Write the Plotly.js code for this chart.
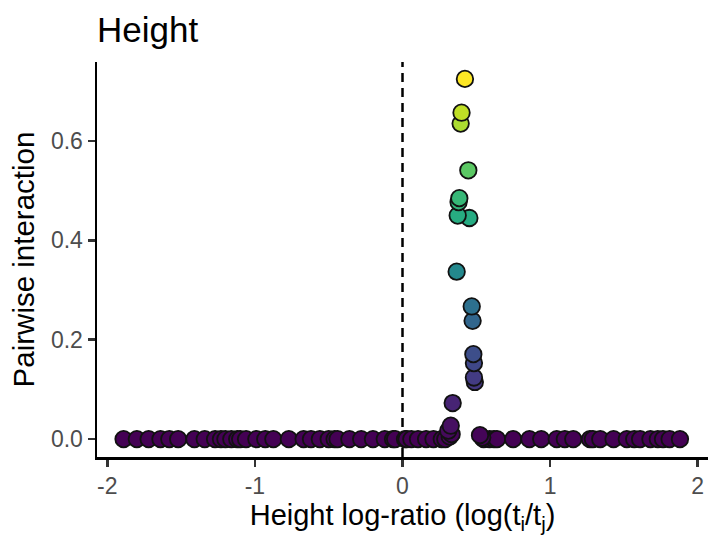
<!DOCTYPE html>
<html>
<head>
<meta charset="utf-8">
<script src="https://cdn.plot.ly/plotly-3.0.1.min.js"></script>
<style>html,body{margin:0;padding:0;background:#fff;}#plot{width:708px;height:535px;}</style>
</head>
<body>
<div id="plot"></div>
<script>
// Log-ratio values (x) and pairwise interaction values (y)
var logRatio = [
  -1.89,-1.80,-1.72,-1.64,-1.58,-1.52,-1.41,-1.34,-1.27,-1.23,-1.20,-1.16,-1.12,-1.10,-1.06,-0.99,-0.93,-0.875,
  -0.77,-0.67,-0.62,-0.56,-0.50,-0.46,-0.44,-0.36,-0.28,-0.20,-0.12,-0.064,-0.05,0.017,0.028,0.06,0.105,0.16,
  0.21,0.266,0.29,0.55,0.59,0.62,0.64,0.75,0.86,0.94,1.045,1.10,1.157,1.27,1.29,1.34,1.43,1.52,1.57,1.61,1.68,
  1.73,1.765,1.81,1.88,
  0.54,0.32,0.525,0.333,0.31,0.327,0.34,0.49,0.484,0.484,0.48,0.475,0.469,0.367,0.453,0.374,0.38,0.385,0.446,
  0.394,0.40,0.423
];
var interaction = [
  0,0,0,0,0,0,0,0,0,0,0,0,0,0,0,0,0,0,
  0,0,0,0,0,0,0,0,0,0,0,0,0,0,0,0,0,0,
  0,0,0,0,0,0,0,0,0,0,0,0,0,0,0,0,0,0,0,0,0,
  0,0,0,0,
  0.003,0.005,0.008,0.010,0.017,0.027,0.0725,0.115,0.124,0.153,0.171,0.238,0.267,0.337,0.445,0.450,0.477,0.485,0.541,
  0.635,0.657,0.725
];
var xTicks = [-2,-1,0,1,2];
var xTickLabels = ["-2","-1","0","1","2"];
var yTicks = [0,0.2,0.4,0.6];
var yTickLabels = ["0.0","0.2","0.4","0.6"];

var font = "Liberation Sans, Arial, Helvetica, sans-serif";
var trace = {
  x: logRatio, y: interaction, type: "scatter", mode: "markers",
  marker: {
    size: 16.5, color: interaction, colorscale: "Viridis", cmin: 0, cmax: Math.max.apply(null, interaction),
    showscale: false, line: {color: "#111111", width: 1.8}, opacity: 1
  },
  hoverinfo: "skip", cliponaxis: false
};
var layout = {
  width: 708, height: 535,
  margin: {l: 97, r: 0, t: 62, b: 78, pad: 0},
  paper_bgcolor: "#fff", plot_bgcolor: "#fff",
  font: {family: font, color: "#000"},
  showlegend: false,
  title: {text: "Height", font: {family: font, size: 35, color: "#000"},
          xref: "container", x: 97/708, xanchor: "left",
          yref: "container", y: 1 - 30/535, yanchor: "middle"},
  xaxis: {
    range: [-2.07, 2.07], tickmode: "array", tickvals: xTicks, ticktext: xTickLabels,
    showgrid: false, zeroline: false, showline: true, linecolor: "#000", linewidth: 2.5,
    ticks: "outside", ticklen: 7, tickwidth: 2.5, tickcolor: "#333",
    tickfont: {family: font, size: 23, color: "#4d4d4d"},
    title: {text: "Height log-ratio (log(t<sub>i</sub>/t<sub>j</sub>)", font: {family: font, size: 29, color: "#000"}, standoff: 6}
  },
  yaxis: {
    range: [-0.036, 0.759], tickmode: "array", tickvals: yTicks, ticktext: yTickLabels,
    showgrid: false, zeroline: false, showline: true, linecolor: "#000", linewidth: 2.5,
    ticks: "outside", ticklen: 7, tickwidth: 2.5, tickcolor: "#333",
    tickfont: {family: font, size: 23, color: "#4d4d4d"},
    title: {text: "Pairwise interaction", font: {family: font, size: 29.5, color: "#000"}, standoff: 8}
  },
  shapes: [{type: "line", xref: "x", yref: "paper", x0: 0, x1: 0, y0: 0, y1: 1,
            line: {color: "#000", width: 2.5, dash: "9px,6px"}, layer: "below"}]
};
Plotly.newPlot("plot", [trace], layout, {staticPlot: true, displayModeBar: false});
</script>
</body>
</html>
